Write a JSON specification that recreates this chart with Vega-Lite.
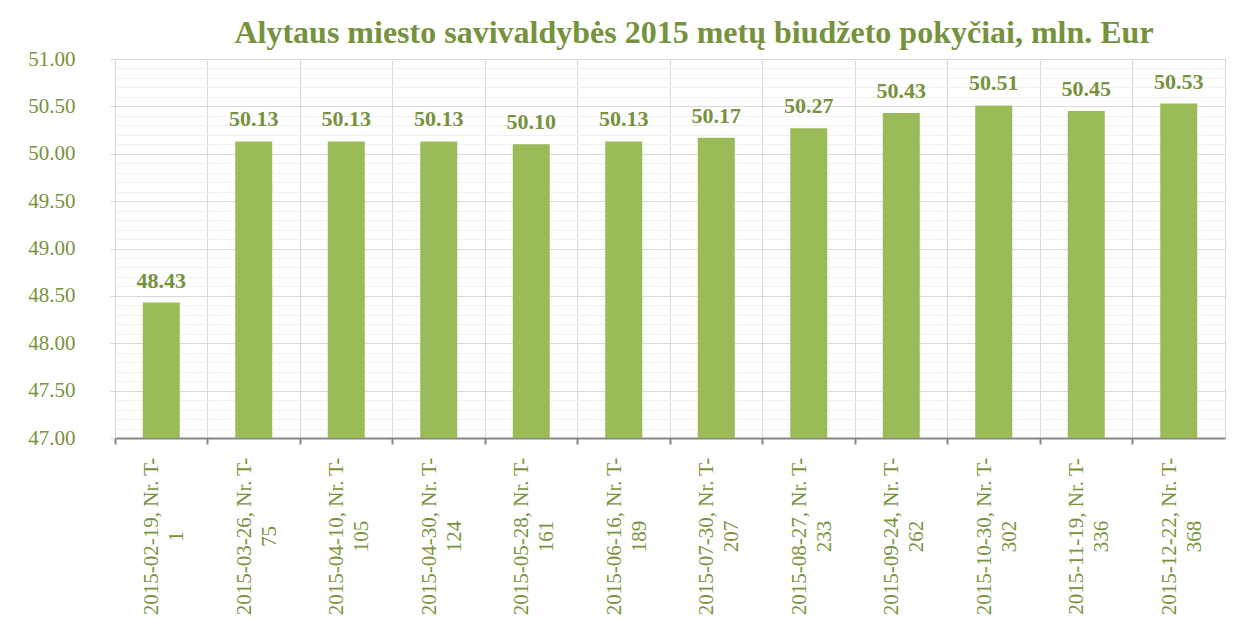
{
  "$schema": "https://vega.github.io/schema/vega-lite/v6.json",
  "width": 1110,
  "height": 379,
  "autosize": "none",
  "padding": {"left": 115, "top": 59, "right": 18, "bottom": 181},
  "background": "white",
  "title": {
    "text": "Alytaus miesto savivaldybės 2015 metų biudžeto pokyčiai, mln. Eur",
    "font": "Liberation Serif",
    "fontSize": 32,
    "fontWeight": "bold",
    "color": "#76923C",
    "anchor": "middle",
    "frame": "group",
    "dx": 24,
    "dy": 41,
    "baseline": "alphabetic",
    "offset": 14
  },
  "config": {
    "view": {"stroke": "#D9D9D9", "strokeWidth": 1},
    "font": "Liberation Serif"
  },
  "data": {
    "values": [
      {"sprendimas": "2015-02-19, Nr. T-1", "suma": 48.43},
      {"sprendimas": "2015-03-26, Nr. T-75", "suma": 50.13},
      {"sprendimas": "2015-04-10, Nr. T-105", "suma": 50.13},
      {"sprendimas": "2015-04-30, Nr. T-124", "suma": 50.13},
      {"sprendimas": "2015-05-28, Nr. T-161", "suma": 50.10},
      {"sprendimas": "2015-06-16, Nr. T-189", "suma": 50.13},
      {"sprendimas": "2015-07-30, Nr. T-207", "suma": 50.17},
      {"sprendimas": "2015-08-27, Nr. T-233", "suma": 50.27},
      {"sprendimas": "2015-09-24, Nr. T-262", "suma": 50.43},
      {"sprendimas": "2015-10-30, Nr. T-302", "suma": 50.51},
      {"sprendimas": "2015-11-19, Nr. T-336", "suma": 50.45},
      {"sprendimas": "2015-12-22, Nr. T-368", "suma": 50.53}
    ]
  },
  "encoding": {
    "x": {
      "field": "sprendimas",
      "type": "nominal",
      "sort": null,
      "scale": {"paddingInner": 0, "paddingOuter": 0},
      "axis": {
        "title": null,
        "bandPosition": 0,
        "grid": true,
        "gridColor": "#D9D9D9",
        "gridWidth": 1,
        "domainColor": "#868686",
        "domainWidth": 2,
        "tickColor": "#868686",
        "tickWidth": 2,
        "tickSize": 6,
        "labelAngle": -90,
        "labelAlign": "center",
        "labelBaseline": "middle",
        "labelPadding": 92,
        "labelOffset": -9,
        "labelFont": "Liberation Serif",
        "labelFontSize": 21,
        "labelColor": "#77933C",
        "labelLineHeight": 25,
        "labelExpr": "[slice(datum.label, 0, 18), slice(datum.label, 18)]"
      }
    }
  },
  "layer": [
    {
      "mark": {"type": "bar", "color": "#9BBB59", "width": {"band": 0.4}},
      "encoding": {
        "y": {
          "field": "suma",
          "type": "quantitative",
          "scale": {"domain": [47, 51], "zero": false, "nice": false},
          "axis": {
            "title": null,
            "values": [47, 47.5, 48, 48.5, 49, 49.5, 50, 50.5, 51],
            "format": ".2f",
            "grid": true,
            "gridColor": "#D9D9D9",
            "gridWidth": 1,
            "domain": false,
            "ticks": true,
            "tickSize": 5,
            "tickColor": "#D9D9D9",
            "labelPadding": 35,
            "labelFont": "Liberation Serif",
            "labelFontSize": 21,
            "labelColor": "#77933C",
            "zindex": 0
          }
        },
        "y2": {"datum": 47}
      }
    },
    {
      "mark": {
        "type": "text",
        "font": "Liberation Serif",
        "fontSize": 22,
        "fontWeight": "bold",
        "color": "#76923C",
        "baseline": "alphabetic",
        "dy": -15
      },
      "encoding": {
        "y": {
          "field": "suma",
          "type": "quantitative",
          "axis": {
            "orient": "right",
            "values": [47.1, 47.2, 47.3, 47.4, 47.6, 47.7, 47.8, 47.9, 48.1, 48.2, 48.3, 48.4, 48.6, 48.7, 48.8, 48.9, 49.1, 49.2, 49.3, 49.4, 49.6, 49.7, 49.8, 49.9, 50.1, 50.2, 50.3, 50.4, 50.6, 50.7, 50.8, 50.9],
            "title": null,
            "labels": false,
            "ticks": false,
            "domain": false,
            "grid": true,
            "gridColor": "#F0F0F0",
            "gridWidth": 1,
            "zindex": 0
          }
        },
        "text": {"field": "suma", "type": "quantitative", "format": ".2f"}
      }
    }
  ],
  "resolve": {"axis": {"y": "independent"}}
}
